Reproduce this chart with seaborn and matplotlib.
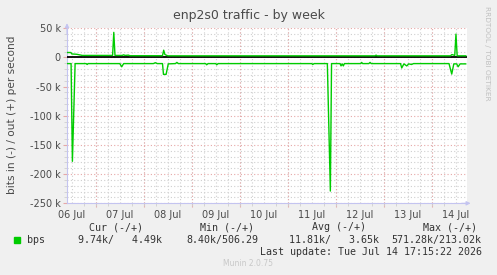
import matplotlib
matplotlib.use("Agg")
import matplotlib.pyplot as plt
from matplotlib.ticker import MultipleLocator, FixedLocator
import pandas as pd
import seaborn as sns

# ---------------- data ----------------
title = "enp2s0 traffic - by week"
ylabel = "bits in (-) / out (+) per second"
day_labels = ["06 Jul", "07 Jul", "08 Jul", "09 Jul", "10 Jul", "11 Jul", "12 Jul", "13 Jul", "14 Jul"]
label_days = [0.5, 1.5, 2.5, 3.5, 4.5, 5.5, 6.5, 7.5, 8.5]          # noon of each day
midnights = [1, 2, 3, 4, 5, 6, 7, 8]
ytick_vals = [-250, -200, -150, -100, -50, 0, 50]
ytick_labels = ["-250 k", "-200 k", "-150 k", "-100 k", "-50 k", "0", "50 k"]

# days since 06 Jul 00:00, values in kbit/s
out_days = [0.41, 0.48, 0.50, 0.60, 0.66, 0.72, 1.35, 1.375, 1.40, 1.55, 1.58, 1.61,
            1.68, 1.71, 2.39, 2.415, 2.44, 2.50, 6.82, 6.84, 6.86, 8.39, 8.42, 8.48,
            8.505, 8.53, 8.71]
out_kbps = [8.5, 8.5, 6.0, 5.5, 4.5, 3.5, 3.5, 43.0, 3.5, 3.5, 4.5, 3.5,
            4.0, 3.0, 3.0, 12.5, 5.0, 2.8, 2.8, 4.0, 2.8, 2.8, 5.0, 3.5,
            40.0, 2.8, 2.8]

in_days = [0.41, 0.485, 0.5125, 0.569, 0.80, 0.82, 0.84, 1.50, 1.54, 1.58, 2.20, 2.24,
           2.28, 2.39, 2.41, 2.465, 2.51, 2.66, 2.69, 2.72, 3.29, 3.31, 3.34, 3.50,
           3.52, 3.55, 5.50, 5.52, 5.55, 5.825, 5.8875, 5.9125, 6.09, 6.11, 6.135, 6.158,
           6.18, 6.52, 6.54, 6.56, 6.69, 6.715, 6.74, 7.35, 7.375, 7.42, 7.48, 7.52,
           7.58, 7.62, 8.36, 8.417, 8.46, 8.52, 8.55, 8.59, 8.708]
in_kbps = [-10.5, -10.5, -178, -10.5, -10.5, -12, -10.5, -10.5, -16, -10.5, -10.5, -9,
           -10.5, -10.5, -29, -29, -11, -10.5, -8.5, -10.5, -10.5, -12.5, -10.5, -10.5,
           -12.5, -10.5, -10.5, -12, -10.5, -10.5, -229, -10.5, -10.5, -14.5, -11, -14.5,
           -10.5, -10.5, -8.5, -10.5, -10.5, -8.5, -10.5, -10.5, -18, -11, -14.5, -11,
           -12, -10.5, -10.5, -28.5, -11, -11, -16, -11, -11]

series_name = "bps"
legend_headers = ["Cur (-/+)", "Min (-/+)", "Avg (-/+)", "Max (-/+)"]
legend_values = ["9.74k/   4.49k", "8.40k/506.29", "11.81k/   3.65k", "571.28k/213.02k"]
last_update = "Last update: Tue Jul 14 17:15:22 2026"
version = "Munin 2.0.75"
watermark = "RRDTOOL / TOBI OETIKER"

# ---------------- styling ----------------
W, H = 497, 275
BG = "#F0F0F0"
GREEN = "#00CC00"
TXT = "#4a4a4a"
plt.rcParams["font.family"] = ["DejaVu Sans"]

fig = plt.figure(figsize=(W / 100, H / 100), dpi=100, facecolor=BG)
ax_l, ax_r, ax_t, ax_b = 67, 467, 28.3, 203.3
ax = fig.add_axes([ax_l / W, 1 - ax_b / H, (ax_r - ax_l) / W, (ax_b - ax_t) / H])
ax.set_facecolor("white")

df_out = pd.DataFrame({"day": out_days, "kbps": out_kbps})
df_in = pd.DataFrame({"day": in_days, "kbps": in_kbps})
sns.lineplot(data=df_out, x="day", y="kbps", ax=ax, color=GREEN, lw=1.0,
             estimator=None, sort=False, zorder=4)
sns.lineplot(data=df_in, x="day", y="kbps", ax=ax, color=GREEN, lw=1.0,
             estimator=None, sort=False, zorder=4)

ax.set_xlim(0.40, 8.735)
ax.set_ylim(-250, 50)

# grids
GRAY_GRID = "#cfcfcf"
RED_GRID = "#e6a8a8"
dots = (0, (1, 2))
ax.xaxis.set_major_locator(FixedLocator(label_days))
ax.set_xticklabels(day_labels)
ax.xaxis.set_minor_locator(MultipleLocator(0.25))
ax.yaxis.set_major_locator(FixedLocator(ytick_vals))
ax.set_yticklabels(ytick_labels)
ax.yaxis.set_minor_locator(MultipleLocator(10))
ax.grid(which="minor", axis="both", color=GRAY_GRID, lw=0.8, ls=dots, zorder=1)
ax.grid(which="major", axis="x", color=GRAY_GRID, lw=0.8, ls=dots, zorder=1)
ax.grid(which="major", axis="y", color=RED_GRID, lw=0.8, ls=dots, zorder=2)
for d in midnights:
    ax.axvline(d, color=RED_GRID, lw=0.8, ls=dots, zorder=2)
ax.set_axisbelow(True)

ax.axhline(0, color="black", lw=1.3, zorder=3)

ax.tick_params(axis="x", which="major", length=0, pad=4.5, labelsize=7, labelcolor=TXT)
ax.tick_params(axis="x", which="minor", length=2, color=GRAY_GRID, width=0.6)
ax.tick_params(axis="y", which="major", length=3, color=RED_GRID, width=0.8, pad=1.5,
               labelsize=7, labelcolor=TXT)
ax.tick_params(axis="y", which="minor", length=2, color=GRAY_GRID, width=0.6)

sec = ax.secondary_xaxis("bottom")
sec.set_xticks(midnights)
sec.set_xticklabels([])
sec.tick_params(length=3, color=RED_GRID, width=0.8)
sec.spines["bottom"].set_visible(False)

for s in ["top", "right"]:
    ax.spines[s].set_visible(False)
AXC = "#c4c4f0"
for s in ["left", "bottom"]:
    ax.spines[s].set_color(AXC)
    ax.spines[s].set_linewidth(0.8)
ax.set_xlabel("")
ax.set_ylabel("")

# axis arrows
ax.annotate("", xy=(0, 1.045), xytext=(0, 0.95), xycoords="axes fraction",
            arrowprops=dict(arrowstyle="-|>", color=AXC, lw=0.8, mutation_scale=6),
            annotation_clip=False)
ax.annotate("", xy=(1.016, 0), xytext=(0.98, 0), xycoords="axes fraction",
            arrowprops=dict(arrowstyle="-|>", color=AXC, lw=0.8, mutation_scale=6),
            annotation_clip=False)

# texts
fig.text(248.5 / W, 1 - 15 / H, title, ha="center", va="center", fontsize=9, color=TXT)
fig.text(12 / W, 1 - 115 / H, ylabel, ha="center", va="center", rotation=90,
         fontsize=7.6, color=TXT)
fig.text(487 / W, 1 - 53 / H, watermark, ha="center", va="center", rotation=270,
         fontsize=5.3, color="#c0c0c0")

MONO = "DejaVu Sans Mono"
fs = 7.2
head_x = [89.3, 200.3, 311.7, 422.7]
val_x = [78.3, 186.0, 289.3, 391.0]
for hx, htxt in zip(head_x, legend_headers):
    fig.text(hx / W, 1 - 227.3 / H, htxt, ha="left", va="center", fontsize=fs,
             family=MONO, color="#333333")
for vx, vtxt in zip(val_x, legend_values):
    fig.text(vx / W, 1 - 240 / H, vtxt, ha="left", va="center", fontsize=fs,
             family=MONO, color="#333333")
fig.text(26.7 / W, 1 - 240 / H, series_name, ha="left", va="center", fontsize=fs,
         family=MONO, color="#333333")
fig.patches.append(plt.Rectangle((14 / W, 1 - 243.3 / H), 6 / W, 6 / H,
                                 transform=fig.transFigure, color=GREEN, figure=fig))
fig.text(482.3 / W, 1 - 251.7 / H, last_update, ha="right", va="center", fontsize=fs,
         family=MONO, color="#333333")
fig.text(248 / W, 1 - 264 / H, version, ha="center", va="center", fontsize=5.5,
         color="#c8c8c8")

fig.savefig("out.png", dpi=100, facecolor=BG)
